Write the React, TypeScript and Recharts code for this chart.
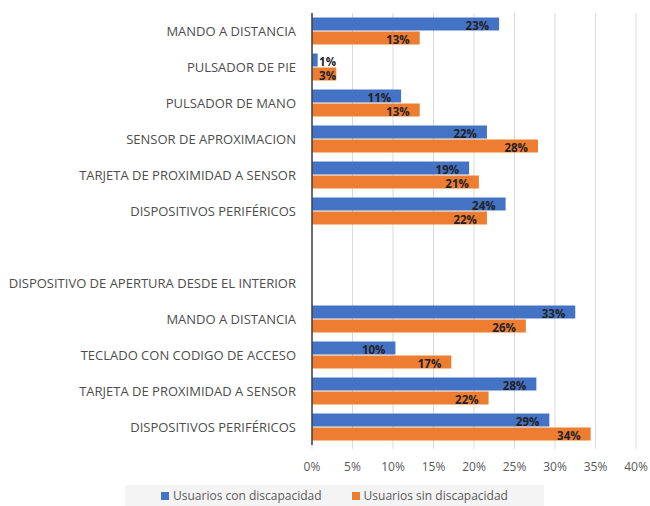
import {
  Bar,
  BarChart,
  CartesianGrid,
  LabelList,
  Legend,
  XAxis,
  YAxis,
} from "recharts";

const categories = [
  "MANDO A DISTANCIA",
  "PULSADOR DE PIE",
  "PULSADOR DE MANO",
  "SENSOR DE APROXIMACION",
  "TARJETA DE PROXIMIDAD A SENSOR",
  "DISPOSITIVOS PERIFÉRICOS",
  "",
  "DISPOSITIVO DE APERTURA DESDE EL INTERIOR",
  "MANDO A DISTANCIA",
  "TECLADO CON CODIGO DE ACCESO",
  "TARJETA DE PROXIMIDAD A SENSOR",
  "DISPOSITIVOS PERIFÉRICOS",
];

const conDiscapacidad = [23.1, 0.7, 11.0, 21.6, 19.4, 23.9, null, null, 32.5, 10.3, 27.7, 29.3];
const sinDiscapacidad = [13.3, 3.0, 13.3, 27.9, 20.6, 21.6, null, null, 26.4, 17.2, 21.8, 34.4];

const xTicks = [0, 5, 10, 15, 20, 25, 30, 35, 40];

const seriesNames = ["Usuarios con discapacidad", "Usuarios sin discapacidad"];
const BLUE = "#4472c4";
const ORANGE = "#ed7d31";

const data = categories.map((name, idx) => ({
  idx,
  name,
  con: conDiscapacidad[idx],
  sin: sinDiscapacidad[idx],
}));

const FONT = "'Open Sans', sans-serif";

function ValueLabel(props: any) {
  const { x, y, width, height, value } = props;
  if (value === null || value === undefined) return null;
  const text = `${Math.round(value)}%`;
  const estW = text.length * 7;
  const end = Math.max(x + width - 10, x + 10 + estW);
  return (
    <text
      x={end}
      y={y + height / 2 + 1}
      textAnchor="end"
      dominantBaseline="central"
      fontFamily={FONT}
      fontSize={11.5}
      fontWeight={700}
      fill="#222"
    >
      {text}
    </text>
  );
}

function CategoryTick(props: any) {
  const { x, y, payload } = props;
  return (
    <text
      x={x}
      y={y}
      textAnchor="end"
      dominantBaseline="central"
      fontFamily={FONT}
      fontSize={13}
      fill="#4d4d4d"
    >
      {categories[payload.value]}
    </text>
  );
}

function LegendBox() {
  const colors = [BLUE, ORANGE];
  return (
    <div
      style={{
        display: "flex",
        alignItems: "center",
        justifyContent: "center",
        gap: 30,
        height: "100%",
        background: "#f4f4f4",
        fontFamily: FONT,
        fontSize: 12,
        color: "#595959",
      }}
    >
      {seriesNames.map((n, i) => (
        <span key={n} style={{ display: "flex", alignItems: "center" }}>
          <span
            style={{
              display: "inline-block",
              width: 8,
              height: 8,
              background: colors[i],
              marginRight: 4,
            }}
          />
          {n}
        </span>
      ))}
    </div>
  );
}

export default function App() {
  return (
    <div style={{ position: "absolute", left: 0, top: 0, width: 650, height: 506, background: "#fff" }}>
      <BarChart
        width={650}
        height={506}
        data={data}
        layout="vertical"
        margin={{ top: 13, right: 14, left: 0, bottom: 31 }}
        barCategoryGap="12.5%"
        barGap={1}
      >
        <CartesianGrid horizontal={false} stroke="#d9d9d9" />
        <XAxis
          type="number"
          domain={[0, 40]}
          ticks={xTicks}
          tickFormatter={(v: number) => `${v}%`}
          axisLine={false}
          tickLine={{ stroke: "#d9d9d9" }}
          tickSize={4}
          tickMargin={13}
          height={30}
          tick={{ fill: "#595959", fontSize: 12, fontFamily: FONT }}
        />
        <YAxis
          type="category"
          dataKey="idx"
          width={312}
          interval={0}
          axisLine={{ stroke: "#404040", strokeWidth: 1.5 }}
          tickLine={false}
          tickSize={0}
          tickMargin={16}
          tick={<CategoryTick />}
        />
        <Legend
          layout="horizontal"
          verticalAlign="middle"
          align="center"
          content={() => <LegendBox />}
          wrapperStyle={{ left: 125, top: 485, width: 419, height: 21 }}
        />
        <Bar dataKey="con" name={seriesNames[0]} fill={BLUE} isAnimationActive={false}>
          <LabelList dataKey="con" content={ValueLabel} />
        </Bar>
        <Bar dataKey="sin" name={seriesNames[1]} fill={ORANGE} isAnimationActive={false}>
          <LabelList dataKey="sin" content={ValueLabel} />
        </Bar>
      </BarChart>
    </div>
  );
}
